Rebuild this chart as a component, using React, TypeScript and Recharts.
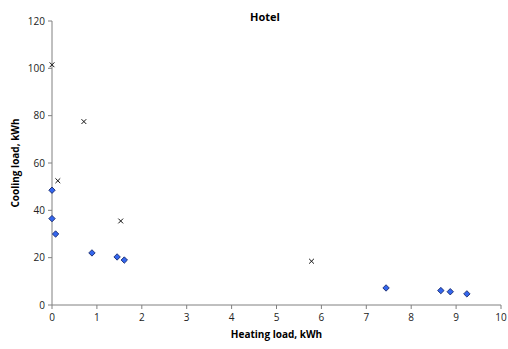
import { ScatterChart, Scatter, XAxis, YAxis } from 'recharts';

const measuredHeating = [0, 0, 0.08, 0.89, 1.45, 1.61, 7.44, 8.66, 8.87, 9.24];
const measuredCooling = [48.5, 36.5, 30, 22, 20.3, 19, 7.2, 6.1, 5.6, 4.7];

const simHeating = [0, 0.71, 0.13, 1.53, 5.78];
const simCooling = [101.5, 77.5, 52.5, 35.5, 18.5];

const xTicks = [0, 1, 2, 3, 4, 5, 6, 7, 8, 9, 10];
const yTicks = [0, 20, 40, 60, 80, 100, 120];

const measured = measuredHeating.map((x, i) => ({ x, y: measuredCooling[i] }));
const simulated = simHeating.map((x, i) => ({ x, y: simCooling[i] }));

const font = 'Open Sans, Liberation Sans, sans-serif';

function Diamond(props: any) {
  const { cx, cy } = props;
  const r = 3.2;
  return (
    <path
      d={`M${cx},${cy - r} L${cx + r},${cy} L${cx},${cy + r} L${cx - r},${cy} Z`}
      fill="#3366ee"
      stroke="#1a2a6c"
      strokeWidth={0.9}
    />
  );
}

function Cross(props: any) {
  const { cx, cy } = props;
  const r = 2.4;
  return (
    <path
      d={`M${cx - r},${cy - r} L${cx + r},${cy + r} M${cx - r},${cy + r} L${cx + r},${cy - r}`}
      stroke="#111"
      strokeWidth={1}
      fill="none"
    />
  );
}

export default function App() {
  return (
    <div style={{ position: 'fixed', left: 0, top: 0, background: '#fff' }}>
      <ScatterChart
        width={508}
        height={349}
        margin={{ top: 21, right: 7, bottom: 0, left: 0 }}
      >
        <text
          x={265}
          y={21}
          textAnchor="middle"
          fontFamily={font}
          fontSize={11}
          fontWeight="bold"
          fill="#000"
        >
          Hotel
        </text>
        <XAxis
          type="number"
          dataKey="x"
          domain={[0, 10]}
          ticks={xTicks}
          height={44}
          stroke="#808080"
          tickSize={4}
          tick={{ fontSize: 10, fill: '#222', fontFamily: font }}
          tickMargin={5}
          label={{
            value: 'Heating load, kWh',
            position: 'insideBottom',
            offset: 11,
            style: { fontFamily: font, fontSize: 10, fontWeight: 'bold', fill: '#000' },
          }}
        />
        <YAxis
          type="number"
          dataKey="y"
          domain={[0, 120]}
          ticks={yTicks}
          width={52}
          stroke="#808080"
          tickSize={4}
          tickMargin={3}
          tick={{ fontSize: 10, fill: '#222', fontFamily: font }}
          label={{
            value: 'Cooling load, kWh',
            angle: -90,
            position: 'insideLeft',
            offset: 15,
            style: { fontFamily: font, fontSize: 10, fontWeight: 'bold', fill: '#000', textAnchor: 'middle' },
          }}
        />
        <Scatter data={measured} shape={<Diamond />} isAnimationActive={false} />
        <Scatter data={simulated} shape={<Cross />} isAnimationActive={false} />
      </ScatterChart>
    </div>
  );
}
